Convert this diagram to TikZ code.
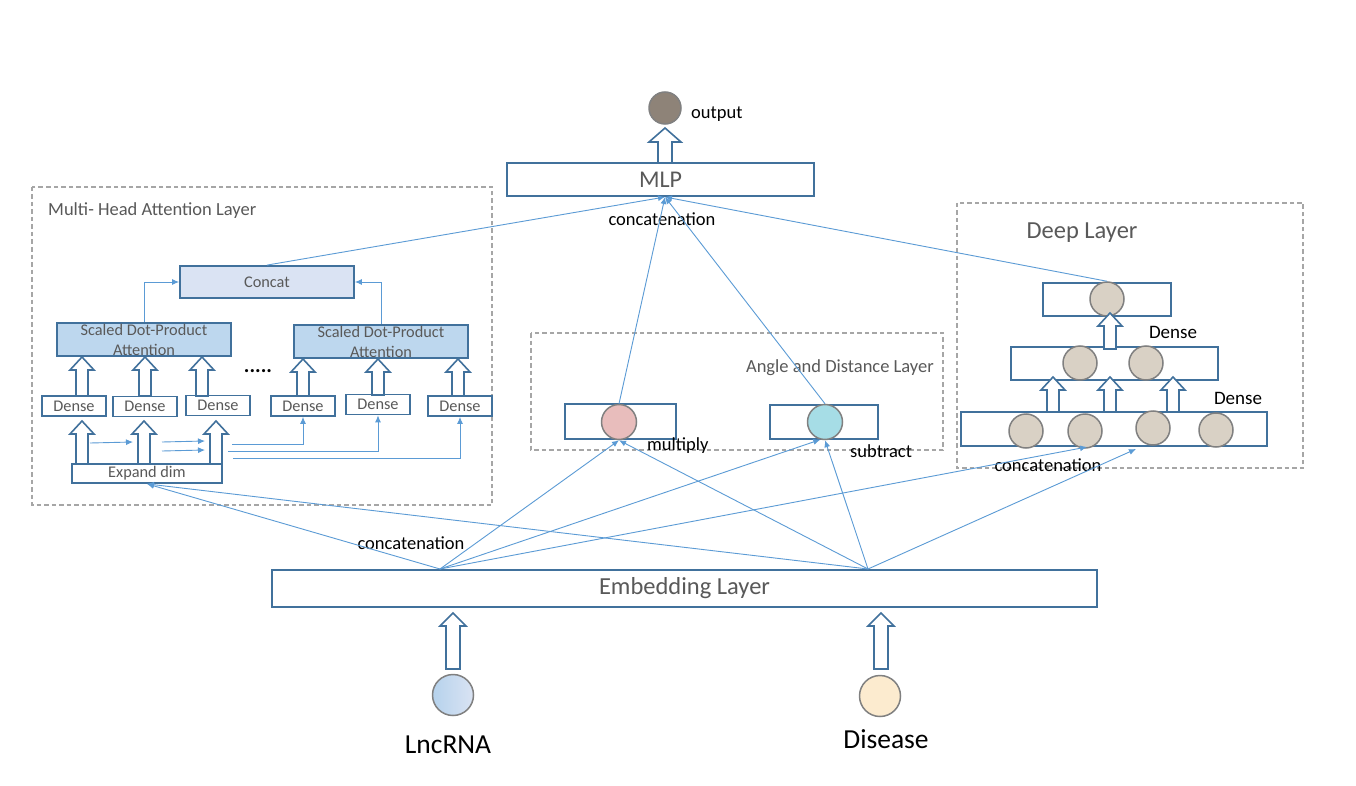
\documentclass[tikz,border=0pt]{standalone}
\usepackage{fontspec}
\setmainfont{Carlito}
\usetikzlibrary{arrows.meta}
\definecolor{boxc}{HTML}{41719C}
\definecolor{linec}{HTML}{5B9BD5}
\definecolor{dashc}{HTML}{A6A6A6}
\definecolor{txtc}{HTML}{595959}
\definecolor{concatfill}{HTML}{DAE3F3}
\definecolor{sdpafill}{HTML}{BDD7EE}
\definecolor{beige}{HTML}{D9D1C5}
\definecolor{pinkc}{HTML}{E8BDBC}
\definecolor{cyanc}{HTML}{A6DDE6}
\definecolor{outc}{HTML}{8E8378}
\definecolor{disc}{HTML}{FCEBCF}
\newcommand\harrow[6]{\draw[harrowst] (#1-#4,#2) -- (#1-#4,#3+#6) -- (#1-#5,#3+#6) -- (#1,#3) -- (#1+#5,#3+#6) -- (#1+#4,#3+#6) -- (#1+#4,#2) -- cycle;}
\begin{document}
\begin{tikzpicture}[x=1pt,y=-1pt,
  box/.style={draw=boxc, line width=1.8pt, fill=white, inner sep=0pt, text=txtc},
  harrowst/.style={draw=boxc, line width=1.6pt, fill=white, line join=miter},
  conn/.style={draw=linec, line width=0.9pt, -{Latex[length=7pt,width=6pt]}},
  dashbox/.style={draw=dashc, dash pattern=on 4.5pt off 3pt, line width=1.5pt},
  neuron/.style={circle, draw=gray, line width=1.5pt, minimum size=34pt, inner sep=0pt, fill=beige},
  lbl/.style={inner sep=0pt, text=black, font=\fontsize{18.5}{22}\selectfont},
  glbl/.style={inner sep=0pt, text=txtc, font=\fontsize{18.5}{22}\selectfont},
  small/.style={font=\fontsize{16.3}{19}\selectfont}
]
\useasboundingbox[fill=white] (0,0) rectangle (1356,786);

% dashed layer frames
\draw[dashbox] (32,187) rectangle (492,505);
\draw[dashbox] (531,333) rectangle (943,450);
\draw[dashbox] (957,203) rectangle (1303,468);

\node[glbl, anchor=west] (mhalbl) at (48,211) {Multi- Head Attention Layer};
\node[glbl, anchor=east] (adllbl) at (934,368) {Angle and Distance Layer};
\node[glbl, font=\fontsize{24.5}{28}\selectfont] (deeplbl) at (1082,233) {Deep Layer};

% MLP and output
\node[box, minimum width=307pt, minimum height=33pt, font=\fontsize{24}{28}\selectfont] (mlp) at (660.5,179.5) {MLP};
\node[circle, draw=gray, line width=1.5pt, minimum size=32pt, inner sep=0pt, fill=outc] (out) at (665,108) {};
\node[lbl, anchor=west] (outlbl) at (691,114) {output};
\harrow{665}{163}{128}{7}{16}{14}
\coordinate (mlpin) at (665,197);
\node[lbl] (catmlp) at (662,219) {concatenation};

% Multi-head attention layer
\node[box, fill=concatfill, minimum width=174pt, minimum height=32pt, small] (concat) at (267,282) {Concat};
\node[box, fill=sdpafill, minimum width=174pt, minimum height=33pt, align=center, font=\fontsize{16.3}{20}\selectfont] (sdpa1) at (144,339.5) {Scaled Dot-Product\\Attention};
\node[box, fill=sdpafill, minimum width=174pt, minimum height=33pt, align=center, font=\fontsize{16.3}{20}\selectfont] (sdpa2) at (381,341.5) {Scaled Dot-Product\\Attention};
\node[inner sep=0pt, font=\bfseries\fontsize{21}{24}\selectfont] (dots) at (258,371) {.....};

\node[box, minimum width=64pt, minimum height=20pt, small] (d1) at (74,406) {Dense};
\node[box, minimum width=64pt, minimum height=20pt, small] (d2) at (145,406.5) {Dense};
\node[box, minimum width=64pt, minimum height=20pt, small] (d3) at (218,405.5) {Dense};
\node[box, minimum width=64pt, minimum height=20pt, small] (d4) at (303,406) {Dense};
\node[box, minimum width=64pt, minimum height=20pt, small] (d5) at (378,404.5) {Dense};
\node[box, minimum width=64pt, minimum height=20pt, small] (d6) at (460,406) {Dense};
\node[box, minimum width=150pt, minimum height=19pt, small] (expand) at (147,473.5) {Expand dim};

\harrow{82}{396}{357}{6}{12}{13}
\harrow{145}{396}{357}{6}{12}{13}
\harrow{202}{396}{357}{6}{12}{13}
\harrow{303}{396}{359}{6}{12}{13}
\harrow{378}{395}{359}{6}{12}{13}
\harrow{458}{396}{359}{6}{12}{13}
\harrow{82}{464}{421}{6}{12}{13}
\harrow{144}{464}{421}{6}{12}{13}
\harrow{216}{464}{421}{6}{12}{13}

\coordinate (a1r) at (90,443);
\coordinate (a2l) at (133,442);
\coordinate (a2r) at (162,442);
\coordinate (a3l) at (205,441);
\coordinate (a2r2) at (162,451);
\coordinate (a3l2) at (205,450);
\coordinate (a3r1) at (232,444);
\coordinate (a3r2) at (228,451);
\coordinate (a3r3) at (233,458);
\draw[conn] (a1r) -- (a2l);
\draw[conn] (a2r) -- (a3l);
\draw[conn] (a2r2) -- (a3l2);
\draw[conn] (a3r1) -| (d4.south);
\draw[conn] (a3r2) -| (d5.south);
\draw[conn] (a3r3) -| (d6.south);
\draw[conn] (sdpa1.north) |- (concat.west);
\draw[conn] (sdpa2.north) |- (concat.east);

% Angle and distance layer
\node[box, minimum width=111pt, minimum height=35pt] (mulbox) at (620.5,421.5) {};
\node[box, minimum width=108pt, minimum height=34pt] (subbox) at (824,422) {};
\node[circle, draw=gray, line width=1.5pt, minimum size=35pt, inner sep=0pt, fill=pinkc] (mulc) at (619,422) {};
\node[circle, draw=gray, line width=1.5pt, minimum size=35pt, inner sep=0pt, fill=cyanc] (subc) at (825,422) {};
\node[lbl, anchor=west] (mullbl) at (647,446) {multiply};
\node[lbl, anchor=west] (sublbl) at (850,451) {subtract};

% Deep layer
\node[box, minimum width=128pt, minimum height=33pt] (dtop) at (1107,299.5) {};
\node[box, minimum width=207pt, minimum height=33pt] (dmid) at (1114.5,363.5) {};
\node[box, minimum width=306pt, minimum height=34pt] (dbot) at (1114,429) {};
\node[neuron] (dtc) at (1107,299) {};
\node[neuron] (dm1) at (1080,363) {};
\node[neuron] (dm2) at (1146,363) {};
\node[neuron] (db1) at (1026,431) {};
\node[neuron] (db2) at (1085,431) {};
\node[neuron] (db3) at (1153,428) {};
\node[neuron] (db4) at (1216,430) {};
\harrow{1110}{349}{313}{6}{12}{13}
\harrow{1053}{412}{377}{6}{12}{13}
\harrow{1110}{412}{377}{6}{12}{13}
\harrow{1173}{412}{377}{6}{12}{13}
\node[lbl, font=\fontsize{19}{22}\selectfont] (dense1) at (1173,332) {Dense};
\node[lbl, font=\fontsize{19}{22}\selectfont] (dense2) at (1238,398) {Dense};
\node[lbl] (catdeep) at (1048,465) {concatenation};
\coordinate (dbt1) at (1087,447);
\coordinate (dbt2) at (1136,449);

% Embedding layer and inputs
\node[box, minimum width=825pt, minimum height=37pt, font=\fontsize{24.5}{28}\selectfont] (emb) at (684.5,588.5) {Embedding Layer};
\coordinate (eL) at (440,569);
\coordinate (eR) at (868,569);
\node[lbl] (catemb) at (411,543) {concatenation};

\node[circle, draw=gray, line width=1.5pt, minimum size=41pt, inner sep=0pt, left color=sdpafill!60!linec!70, right color=concatfill] (lnc) at (453,695) {};
\node[circle, draw=gray, line width=1.5pt, minimum size=41pt, inner sep=0pt, fill=disc] (dis) at (880,696) {};
\node[inner sep=0pt, font=\fontsize{27.5}{32}\selectfont] (lnclbl) at (448,745) {LncRNA};
\node[inner sep=0pt, font=\fontsize{27.5}{32}\selectfont] (dislbl) at (886,739) {Disease};
\harrow{453}{669}{613}{7}{13}{13}
\harrow{881}{669}{613}{7}{13}{13}

% connectors from embedding
\draw[conn] (eL) -- (expand.south);
\draw[conn] (eR) -- (expand.south);
\draw[conn] (eL) -- (mulc.south);
\draw[conn] (eR) -- (mulc.south);
\draw[conn] (eL) -- (subc.255);
\draw[conn] (eR) -- (subc.south);
\draw[conn] (eL) -- (dbt1);
\draw[conn] (eR) -- (dbt2);

% connectors to MLP
\draw[conn] (concat.north) -- (mlpin);
\draw[conn] (mulc.north) -- (mlpin);
\draw[conn] (subc.north) -- (mlpin);
\draw[conn] (dtc.north) -- (mlpin);
\end{tikzpicture}
\end{document}
